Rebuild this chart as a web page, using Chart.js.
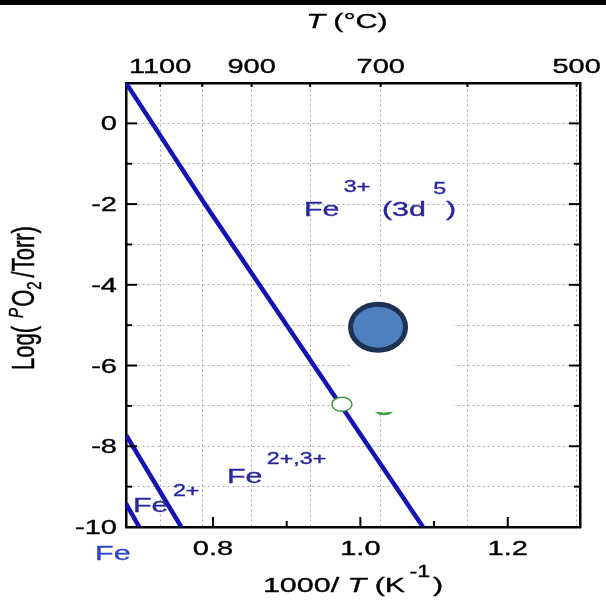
<!DOCTYPE html>
<html>
<head>
<meta charset="utf-8">
<script src="https://cdn.jsdelivr.net/npm/chart.js@4.4.0/dist/chart.umd.min.js"></script>
<style>
  html, body { margin: 0; padding: 0; background: #fff; }
  canvas { display: block; }
</style>
</head>
<body>
<canvas id="chart" width="606" height="605"></canvas>
<script>
// axis ranges (x = 1000/T in K^-1, y = log pO2)
const xMin = 0.682, xMax = 1.298;
const yMin = -10, yMax = 1;

const bottomTicks = [0.8, 0.9, 1.0, 1.1, 1.2];
const bottomLabels = ['0.8', '', '1.0', '', '1.2'];
const topTempsC = [1100, 1000, 900, 800, 700, 600, 500];
const topLabels = ['1100', '', '900', '', '700', '', '500'];
const yTicks = [-10, -9, -8, -7, -6, -5, -4, -3, -2, -1, 0];
const yLabels = ['-10', '', '-8', '', '-6', '', '-4', '', '-2', '', '0'];

// phase boundaries
const fe3X = [0.682, 0.789, 1.085];
const fe3Y = [1, -2, -10];
const fe23X = [0.682, 0.757];
const fe23Y = [-7.72, -10];
const fe2X = [0.682, 0.700];
const fe2Y = [-9.42, -10];

// region labels (anchor = left baseline of "Fe")
const regionX = [0.9235, 0.819, 0.6915, 0.640];
const regionY = [-2.30, -8.91, -9.63, -10.82];

// slide leftovers pasted over the plot
const patchX = [0.989, 1.127];
const patchY = [-4.36, -7.15];
const blobX = 1.024, blobY = -5.05;
const dotX = [0.975, 1.032];
const dotY = [-6.96, -7.03];

const FONT = '"Liberation Sans", Arial, Helvetica, sans-serif';
const SX = 1.45; // text in the source is stretched sideways
const LINE = '#1414b4';
const LABEL = '#28289e';

function fontOf(r) {
  return (r.italic ? 'italic ' : '') + r.size + 'px ' + FONT;
}

function drawRuns(ctx, runs, x, y, align, color, sx) {
  if (sx === undefined) sx = SX;
  ctx.save();
  ctx.fillStyle = color || '#000';
  ctx.strokeStyle = color || '#000';
  ctx.lineWidth = 0.35;
  ctx.textBaseline = 'alphabetic';
  ctx.textAlign = 'left';
  let w = 0;
  const widths = runs.map(r => {
    ctx.font = fontOf(r);
    const m = ctx.measureText(r.text).width;
    w += (r.gap || 0) + m;
    return m;
  });
  let start = x;
  if (align === 'center') start = x - w * sx / 2;
  if (align === 'right') start = x - w * sx;
  ctx.translate(start, y);
  ctx.scale(sx, 1);
  let cx = 0;
  runs.forEach((r, i) => {
    cx += r.gap || 0;
    ctx.font = fontOf(r);
    ctx.fillText(r.text, cx, r.dy || 0);
    ctx.strokeText(r.text, cx, r.dy || 0);
    cx += widths[i];
  });
  ctx.restore();
}

const regionRuns = [
  [{ text: 'Fe', size: 21 }, { text: '3+', size: 16, dy: -24, gap: 3 },
   { text: '(3d', size: 21, gap: 8 }, { text: '5', size: 16, dy: -22, gap: 5 },
   { text: ')', size: 21 }],
  [{ text: 'Fe', size: 21 }, { text: '2+,3+', size: 16, dy: -19, gap: 3 }],
  [{ text: 'Fe', size: 21 }, { text: '2+', size: 16, dy: -16, gap: 3 }],
  [{ text: 'Fe', size: 21 }]
];
const regionColors = [LABEL, LABEL, LABEL, '#2f45c9'];

function seg(ctx, x1, y1, x2, y2) {
  ctx.beginPath();
  ctx.moveTo(x1, y1);
  ctx.lineTo(x2, y2);
  ctx.stroke();
}

const background = {
  id: 'background',
  beforeDraw(chart) {
    const { ctx, width } = chart;
    ctx.save();
    ctx.fillStyle = '#fff';
    ctx.fillRect(0, 0, width, chart.height);
    ctx.fillStyle = '#000';
    ctx.fillRect(0, 0, width, 5);
    ctx.restore();
  }
};

const overlay = {
  id: 'overlay',
  afterDatasetsDraw(chart) {
    const { ctx, scales: { x, y } } = chart;
    ctx.save();
    // green marker mostly hidden behind the white patch
    ctx.fillStyle = '#ffffff';
    ctx.strokeStyle = '#3c9a3c';
    ctx.lineWidth = 2.5;
    ctx.beginPath();
    ctx.ellipse(x.getPixelForValue(dotX[1]), y.getPixelForValue(dotY[1]), 10, 7, 0, 0, Math.PI * 2);
    ctx.fill();
    ctx.stroke();
    // white patch
    const px1 = x.getPixelForValue(patchX[0]), px2 = x.getPixelForValue(patchX[1]);
    const py1 = y.getPixelForValue(patchY[0]), py2 = y.getPixelForValue(patchY[1]);
    ctx.fillStyle = '#ffffff';
    ctx.fillRect(px1, py1, px2 - px1, py2 - py1);
    // blue blob
    ctx.beginPath();
    ctx.ellipse(x.getPixelForValue(blobX), y.getPixelForValue(blobY), 27.5, 23, 0, 0, Math.PI * 2);
    ctx.fillStyle = '#4e7fc0';
    ctx.fill();
    ctx.lineWidth = 5;
    ctx.strokeStyle = '#1d3152';
    ctx.stroke();
    // small white marker on the boundary line
    ctx.beginPath();
    ctx.ellipse(x.getPixelForValue(dotX[0]), y.getPixelForValue(dotY[0]), 10, 7, 0, 0, Math.PI * 2);
    ctx.fillStyle = '#ffffff';
    ctx.fill();
    ctx.lineWidth = 1.5;
    ctx.strokeStyle = '#3c9a3c';
    ctx.stroke();
    ctx.restore();

    regionRuns.forEach((runs, i) => {
      drawRuns(ctx, runs, x.getPixelForValue(regionX[i]), y.getPixelForValue(regionY[i]), 'left', regionColors[i]);
    });
  }
};

const frame = {
  id: 'frame',
  afterDraw(chart) {
    const { ctx, chartArea: a, scales } = chart;
    ctx.save();
    ctx.strokeStyle = '#000';
    ctx.lineWidth = 2;
    // inward tick marks
    yTicks.forEach((v, i) => {
      const py = scales.y.getPixelForValue(v);
      const len = yLabels[i] ? 11 : 6;
      seg(ctx, a.left, py, a.left + len, py);
      seg(ctx, a.right, py, a.right - len, py);
    });
    bottomTicks.forEach((v, i) => {
      const px = scales.x.getPixelForValue(v);
      seg(ctx, px, a.bottom, px, a.bottom - (bottomLabels[i] ? 10 : 6));
    });
    topTempsC.forEach(t => {
      const px = scales.x2.getPixelForValue(1000 / (t + 273.15));
      seg(ctx, px, a.top, px, a.top + 4);
    });
    ctx.restore();

    // tick labels
    yTicks.forEach((v, i) => {
      if (!yLabels[i]) return;
      drawRuns(ctx, [{ text: yLabels[i], size: 20 }], a.left - 9, scales.y.getPixelForValue(v) + 7, 'right');
    });
    bottomTicks.forEach((v, i) => {
      if (!bottomLabels[i]) return;
      drawRuns(ctx, [{ text: bottomLabels[i], size: 20 }], scales.x.getPixelForValue(v), a.bottom + 28, 'center');
    });
    topTempsC.forEach((t, i) => {
      if (!topLabels[i]) return;
      drawRuns(ctx, [{ text: topLabels[i], size: 20 }], scales.x2.getPixelForValue(1000 / (t + 273.15)), a.top - 10, 'center');
    });

    // axis titles
    const cx = (a.left + a.right) / 2;
    drawRuns(ctx, [{ text: 'T', size: 21, italic: true }, { text: ' (°C)', size: 21 }], cx - 6, a.top - 55, 'center');
    drawRuns(ctx, [
      { text: '1000/ ', size: 21 }, { text: 'T', size: 21, italic: true }, { text: ' (K', size: 21 },
      { text: '-1', size: 16, dy: -15, gap: 3 }, { text: ')', size: 21, gap: 2 }
    ], cx, a.bottom + 65, 'center');

    ctx.save();
    ctx.translate(a.left - 92, (a.top + a.bottom) / 2 - 7);
    ctx.rotate(-Math.PI / 2);
    ctx.scale(1, 1.4);
    drawRuns(ctx, [
      { text: 'Log(', size: 22 }, { text: 'P', size: 15, italic: true, dy: -8, gap: 8 },
      { text: 'O', size: 22, gap: 1 }, { text: '2', size: 15, dy: 5 },
      { text: '/Torr)', size: 22, gap: 4 }
    ], 0, 0, 'center', '#000', 1);
    ctx.restore();
  }
};

function pts(xs, ys) {
  return xs.map((v, i) => ({ x: v, y: ys[i] }));
}

const lineStyle = {
  showLine: true,
  borderColor: LINE,
  borderWidth: 4.5,
  pointRadius: 0,
  clip: 0,
  xAxisID: 'x',
  yAxisID: 'y'
};

const gridGray = '#a8a8a8';

new Chart(document.getElementById('chart'), {
  type: 'scatter',
  data: {
    datasets: [
      Object.assign({ data: pts(fe3X, fe3Y) }, lineStyle),
      Object.assign({ data: pts(fe23X, fe23Y) }, lineStyle),
      Object.assign({ data: pts(fe2X, fe2Y) }, lineStyle)
    ]
  },
  options: {
    responsive: false,
    animation: false,
    layout: { padding: 0 },
    plugins: { legend: { display: false }, tooltip: { enabled: false } },
    scales: {
      x: {
        type: 'linear', position: 'bottom', min: xMin, max: xMax,
        afterBuildTicks: axis => { axis.ticks = bottomTicks.map(v => ({ value: v })); },
        afterFit: axis => { axis.height = 78; },
        ticks: { display: false },
        grid: { drawOnChartArea: false, drawTicks: false },
        border: { color: '#000', width: 2.5 }
      },
      x2: {
        type: 'linear', position: 'top', min: xMin, max: xMax, display: true,
        afterBuildTicks: axis => { axis.ticks = topTempsC.map(t => ({ value: 1000 / (t + 273.15) })); },
        afterFit: axis => { axis.height = 83; },
        ticks: { display: false },
        grid: { drawOnChartArea: true, drawTicks: false, color: gridGray, lineWidth: 1 },
        border: { color: '#000', width: 2.5, dash: [2, 3] }
      },
      y: {
        type: 'linear', position: 'left', min: yMin, max: yMax,
        afterBuildTicks: axis => { axis.ticks = yTicks.map(v => ({ value: v })); },
        afterFit: axis => { axis.width = 126; },
        ticks: { display: false },
        grid: { drawOnChartArea: true, drawTicks: false, color: gridGray, lineWidth: 1 },
        border: { color: '#000', width: 2.5, dash: [2, 3] }
      },
      yR: {
        type: 'linear', position: 'right', min: yMin, max: yMax, display: true,
        afterBuildTicks: axis => { axis.ticks = yTicks.map(v => ({ value: v })); },
        afterFit: axis => { axis.width = 26; },
        ticks: { display: false },
        grid: { drawOnChartArea: false, drawTicks: false },
        border: { color: '#000', width: 2.5 }
      }
    }
  },
  plugins: [background, overlay, frame]
});
</script>
</body>
</html>
